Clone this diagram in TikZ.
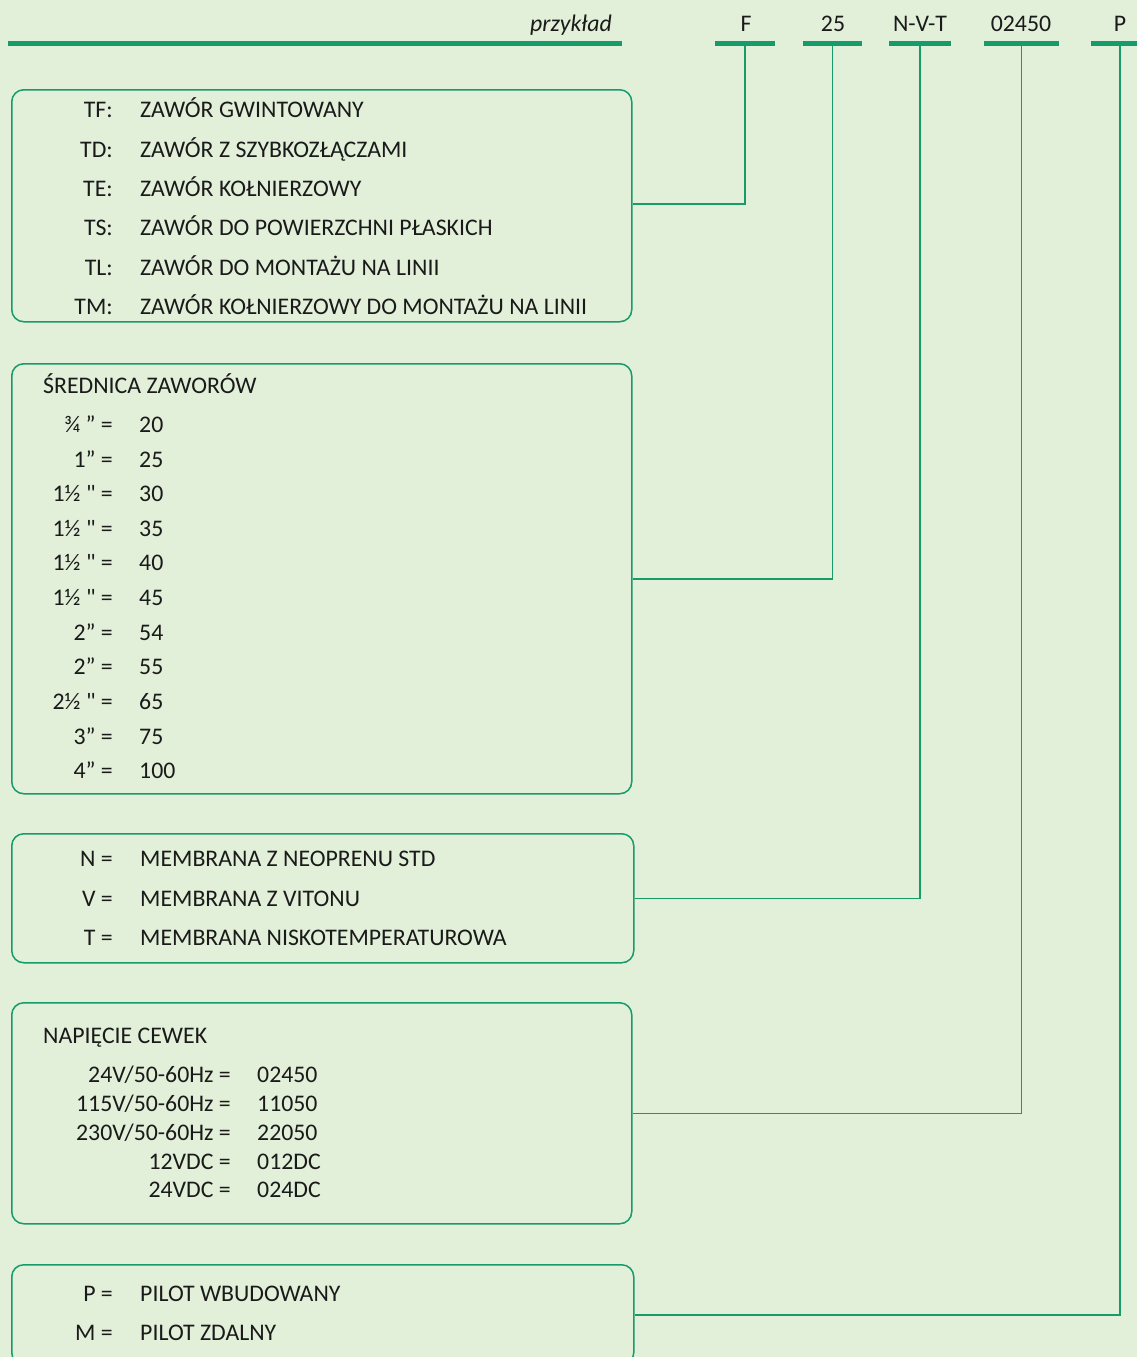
\documentclass[tikz,border=0pt]{standalone}
\usepackage{fontspec}
\setmainfont{Carlito}
\definecolor{bg}{RGB}{226,239,217}
\definecolor{gr}{RGB}{22,155,107}
\definecolor{tx}{RGB}{26,26,26}
\newcommand{\sq}{{\addfontfeature{Ligatures=TeXOff}"}}
\begin{document}
\begin{tikzpicture}[x=1pt,y=-1pt,
  font=\fontsize{23.8}{28}\selectfont,
  bar/.style={fill=gr, inner sep=0pt, minimum height=5pt, anchor=center},
  box/.style={draw=gr, line width=1.5pt, rounded corners=12pt, inner sep=0pt, anchor=north west},
  lab/.style={anchor=base east, text=tx, inner sep=0pt},
  val/.style={anchor=base west, text=tx, inner sep=0pt},
  code/.style={anchor=base, text=tx, inner sep=0pt},
  conn/.style={draw=gr, line width=1.5pt}]
\clip (0,0) rectangle (1137,1357);
\fill[bg] (0,0) rectangle (1137,1357);

% header
\node[bar, minimum width=614pt] (hdr) at (315,43) {};
\node[lab, font=\fontsize{23.8}{28}\selectfont\itshape] (ex) at (612,31) {przykład};
\node[bar, minimum width=60pt] (bF) at (745,43) {};
\node[bar, minimum width=59pt] (b25) at (832.5,43) {};
\node[bar, minimum width=62pt] (bN) at (920,43) {};
\node[bar, minimum width=75pt] (bC) at (1021.5,43) {};
\node[bar, minimum width=58pt] (bP) at (1120,43) {};
\node[code] (tF) at (746,31) {F};
\node[code] (t25) at (833,31) {25};
\node[code] (tN) at (920,31) {N-V-T};
\node[code] (tC) at (1021,31) {02450};
\node[code] (tP) at (1120,31) {P};

% boxes
\node[box, minimum width=620pt, minimum height=232pt] (box1) at (11,89) {};
\node[box, minimum width=620pt, minimum height=430pt] (box2) at (11,363) {};
\node[box, minimum width=622pt, minimum height=129pt] (box3) at (11,833) {};
\node[box, minimum width=620pt, minimum height=221pt] (box4) at (11,1002) {};
\node[box, minimum width=622pt, minimum height=100pt] (box5) at (11,1264) {};

% box 1
\foreach \i/\y/\l/\v in {1/117/TF:/ZAWÓR GWINTOWANY, 2/157/TD:/ZAWÓR Z SZYBKOZŁĄCZAMI, 3/196/TE:/ZAWÓR KOŁNIERZOWY, 4/235/TS:/ZAWÓR DO POWIERZCHNI PŁASKICH, 5/275/TL:/ZAWÓR DO MONTAŻU NA LINII, 6/314/TM:/ZAWÓR KOŁNIERZOWY DO MONTAŻU NA LINII}{
  \node[lab] (a\i) at (113,\y) {\l};
  \node[val] (av\i) at (140,\y) {\v};
}

% box 2
\node[val] (t2) at (43,393) {ŚREDNICA ZAWORÓW};
\foreach \i/\y/\l/\v in {1/432/¾ ”{} =/20, 2/467/1” =/25, 3/501/1½ \sq{} =/30, 4/536/1½ \sq{} =/35, 5/570/1½ \sq{} =/40, 6/605/1½ \sq{} =/45, 7/640/2” =/54, 8/674/2” =/55, 9/709/2½ \sq{} =/65, 10/744/3” =/75, 11/778/4” =/100}{
  \node[lab] (b\i) at (113,\y) {\l};
  \node[val] (bv\i) at (139,\y) {\v};
}

% box 3
\foreach \i/\y/\l/\v in {1/866/N =/MEMBRANA Z NEOPRENU STD, 2/906/V =/MEMBRANA Z VITONU, 3/945/T =/MEMBRANA NISKOTEMPERATUROWA}{
  \node[lab] (c\i) at (113,\y) {\l};
  \node[val] (cv\i) at (140,\y) {\v};
}

% box 4
\node[val] (t4) at (43,1043) {NAPIĘCIE CEWEK};
\foreach \i/\y/\l/\v in {1/1082/24V\slash 50-60Hz =/02450, 2/1111/115V\slash 50-60Hz =/11050, 3/1140/230V\slash 50-60Hz =/22050, 4/1169/12VDC =/012DC, 5/1197/24VDC =/024DC}{
  \node[lab] (d\i) at (231,\y) {\l};
  \node[val] (dv\i) at (257,\y) {\v};
}

% box 5
\foreach \i/\y/\l/\v in {1/1301/P =/PILOT WBUDOWANY, 2/1340/M =/PILOT ZDALNY}{
  \node[lab] (e\i) at (113,\y) {\l};
  \node[val] (ev\i) at (140,\y) {\v};
}

% connectors
\draw[conn] ([yshift=2pt]box1.east) -| (bF.south);
\draw[conn] (box2.east) -| (b25.south);
\draw[conn] (box3.east) -| (bN.south);
\draw[conn] (box4.east) -| (bC.south);
\draw[conn] (box5.east) -| (bP.south);
\end{tikzpicture}
\end{document}
